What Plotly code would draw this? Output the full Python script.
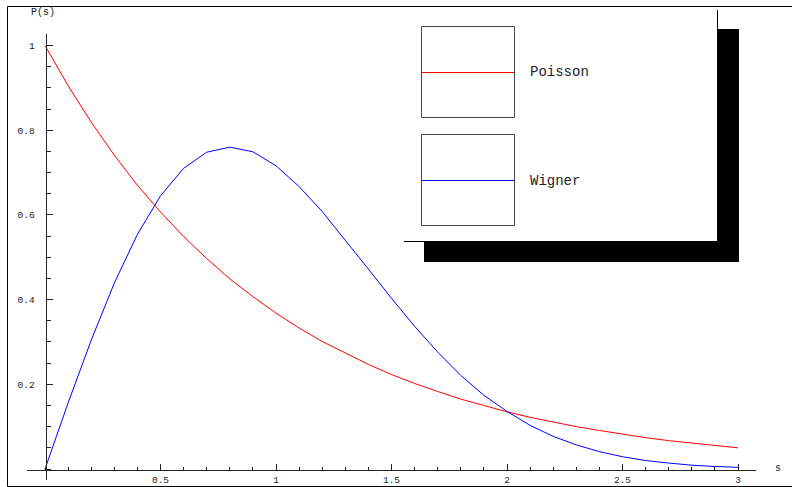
import plotly.graph_objects as go

# ---- data ----
s_vals = [0.0, 0.1, 0.2, 0.3, 0.4, 0.5, 0.6, 0.7, 0.8, 0.9, 1.0,
          1.1, 1.2, 1.3, 1.4, 1.5, 1.6, 1.7, 1.8, 1.9, 2.0,
          2.1, 2.2, 2.3, 2.4, 2.5, 2.6, 2.7, 2.8, 2.9, 3.0]
poisson = [1.000, 0.905, 0.819, 0.741, 0.670, 0.607, 0.549, 0.497, 0.449, 0.407, 0.368,
           0.333, 0.301, 0.273, 0.247, 0.223, 0.202, 0.183, 0.165, 0.150, 0.135,
           0.122, 0.111, 0.100, 0.091, 0.082, 0.074, 0.067, 0.061, 0.055, 0.050]
wigner = [0.000, 0.156, 0.304, 0.439, 0.554, 0.645, 0.710, 0.748, 0.760, 0.749, 0.716,
          0.667, 0.608, 0.541, 0.472, 0.403, 0.337, 0.276, 0.221, 0.174, 0.136,
          0.103, 0.077, 0.057, 0.041, 0.029, 0.020, 0.014, 0.009, 0.006, 0.004]
x_tick_vals = [0.5, 1, 1.5, 2, 2.5, 3]
x_tick_text = ["0.5", "1", "1.5", "2", "2.5", "3"]
y_tick_vals = [0.2, 0.4, 0.6, 0.8, 1.0]
y_tick_text = ["0.2", "0.4", "0.6", "0.8", "1"]
series_names = ["Poisson", "Wigner"]
series_colors = ["#ff0000", "#0000ff"]

W, H = 792, 487
ML, MR, MT, MB = 27, 36, 34, 7
PW, PH = W - ML - MR, H - MT - MB


def px(x):
    return (x - ML) / PW


def py(y):
    return (H - MB - y) / PH


FONT = "Liberation Mono, Courier New, monospace"

fig = go.Figure()
for name, ys, col in zip(series_names, [poisson, wigner], series_colors):
    fig.add_trace(go.Scatter(x=s_vals, y=ys, mode="lines", name=name,
                             line=dict(color=col, width=1), showlegend=False))

x0_px, y0_px = 45, 469
sx = 231.0
sy = 423.5
xr = [(ML - x0_px) / sx, (W - MR - x0_px) / sx]
yr = [(y0_px - (H - MB)) / sy, (y0_px - MT) / sy]

fig.update_layout(
    width=W, height=H, autosize=False,
    margin=dict(l=ML, r=MR, t=MT, b=MB, pad=0, autoexpand=False),
    paper_bgcolor="white", plot_bgcolor="white",
    font=dict(family=FONT, size=10, color="#222"),
    xaxis=dict(range=xr, anchor="free", position=py(y0_px + 0.5), automargin=False,
               showgrid=False, zeroline=False, showline=True,
               linecolor="#222", linewidth=1,
               ticks="inside", ticklen=6, tickcolor="#222", tickwidth=1,
               tickvals=x_tick_vals, ticktext=x_tick_text,
               tickfont=dict(size=9.5),
               ticklabelstandoff=1,
               minor=dict(ticks="inside", ticklen=3, dtick=0.1, tick0=0,
                          tickcolor="#222", showgrid=False)),
    yaxis=dict(range=yr, anchor="free", position=px(x0_px + 0.5), automargin=False,
               showgrid=False, zeroline=False, showline=True,
               linecolor="#222", linewidth=1,
               ticks="inside", ticklen=6, tickcolor="#222", tickwidth=1,
               tickvals=y_tick_vals, ticktext=y_tick_text,
               tickfont=dict(size=9.5),
               ticklabelstandoff=9,
               minor=dict(ticks="inside", ticklen=4, dtick=0.05, tick0=0,
                          tickcolor="#222", showgrid=False)),
)

shapes = []
# outer frame
for (xa, ya, xb, yb) in [(7.5, 6.5, 792, 6.5), (7.5, 6.5, 7.5, 486.5), (7.5, 486.5, 792, 486.5)]:
    shapes.append(dict(type="line", xref="paper", yref="paper",
                       x0=px(xa), y0=py(ya), x1=px(xb), y1=py(yb),
                       line=dict(color="black", width=1)))
# legend shadow and panel
shapes.append(dict(type="rect", xref="paper", yref="paper",
                   x0=px(424), y0=py(29), x1=px(739), y1=py(262),
                   fillcolor="black", line=dict(width=0)))
shapes.append(dict(type="rect", xref="paper", yref="paper",
                   x0=px(404), y0=py(10), x1=px(718), y1=py(241),
                   fillcolor="white", line=dict(width=0)))
shapes.append(dict(type="line", xref="paper", yref="paper",
                   x0=px(717.5), y0=py(10), x1=px(717.5), y1=py(241.5),
                   line=dict(color="black", width=1)))
shapes.append(dict(type="line", xref="paper", yref="paper",
                   x0=px(404), y0=py(241.5), x1=px(717.5), y1=py(241.5),
                   line=dict(color="black", width=1)))
# legend sample boxes
boxes = [(26.5, 117.5, 72.5), (134.5, 225.5, 180.5)]
annotations = []
for (top, bot, mid), name, col in zip(boxes, series_names, series_colors):
    shapes.append(dict(type="rect", xref="paper", yref="paper",
                       x0=px(421.5), y0=py(top), x1=px(514.5), y1=py(bot),
                       line=dict(color="#444", width=1), fillcolor="white"))
    shapes.append(dict(type="line", xref="paper", yref="paper",
                       x0=px(422), y0=py(mid), x1=px(514), y1=py(mid),
                       line=dict(color=col, width=1)))
    annotations.append(dict(text=name, xref="paper", yref="paper",
                            x=px(528), y=py(mid), xanchor="left", yanchor="middle",
                            showarrow=False, font=dict(family=FONT, size=14, color="#222")))

annotations.append(dict(text="P(s)", xref="paper", yref="paper",
                        x=px(43), y=py(12), xanchor="center", yanchor="middle",
                        showarrow=False, font=dict(family=FONT, size=10, color="#222")))
annotations.append(dict(text="s", xref="paper", yref="paper",
                        x=px(778), y=py(468), xanchor="center", yanchor="middle",
                        showarrow=False, font=dict(family=FONT, size=10, color="#222")))

fig.update_layout(shapes=shapes, annotations=annotations)
fig.write_html("out.html", config=dict(displayModeBar=False, responsive=False),
               post_script="document.body.style.margin='0';document.body.style.overflow='hidden';")
